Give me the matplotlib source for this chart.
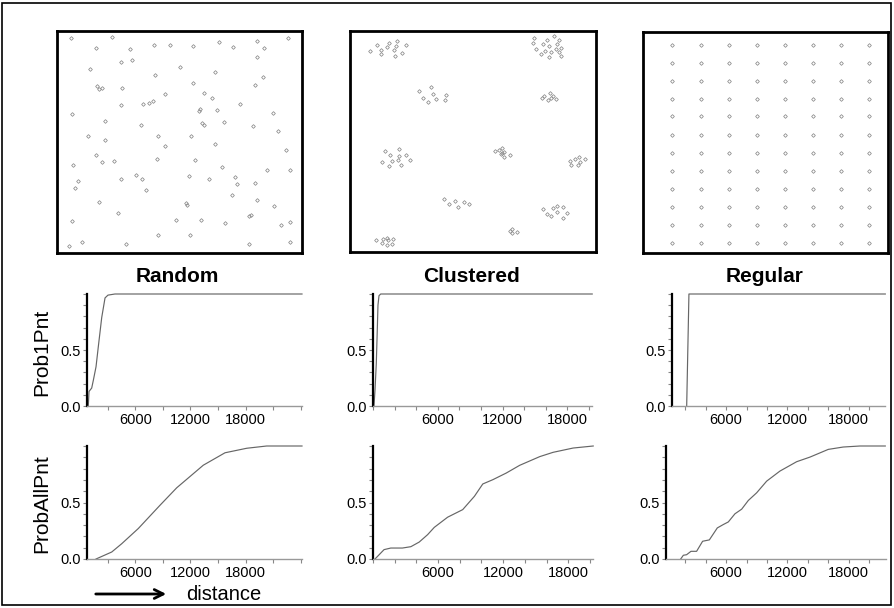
import matplotlib
matplotlib.use('Agg')
import matplotlib.pyplot as plt
import numpy as np
from matplotlib.patches import Rectangle, FancyArrowPatch
from matplotlib.ticker import FixedLocator, MultipleLocator

plt.rcParams['font.family'] = ['Liberation Sans', 'DejaVu Sans']

# Figure size in pixels
W, H = 894, 608

# Point patterns, on a 0-100 square
RANDOM_X = [5.9, 22.4, 15.9, 29.7, 39.5, 46.3, 55.5, 66.0, 72.0, 81.6, 84.4, 94.4,
            26.3, 30.5, 81.6, 13.6, 50.2, 39.9, 64.6, 83.9, 16.3, 17.0, 18.4, 26.5,
            55.4, 80.7, 43.9, 59.9, 63.1, 26.0, 35.0, 37.7, 39.2, 74.6, 6.3, 58.5,
            58.0, 65.2, 88.3, 19.7, 34.1, 59.0, 59.9, 68.2, 79.9, 90.1, 12.5, 41.1,
            54.6, 19.7, 43.9, 64.4, 93.5, 15.8, 18.4, 23.1, 6.4, 41.0, 56.5, 67.2,
            85.6, 95.1, 32.1, 34.7, 26.3, 53.9, 62.2, 72.5, 73.3, 81.0, 8.7, 7.3,
            36.2, 71.6, 17.1, 81.6, 88.4, 24.8, 52.5, 53.2, 79.3, 78.2, 6.0, 48.6,
            58.8, 68.4, 91.3, 95.1, 41.1, 54.1, 10.2, 4.9, 28.0, 78.2, 95.2]
RANDOM_Y = [96.7, 97.4, 92.2, 91.9, 93.7, 93.7, 93.4, 94.9, 92.6, 95.6, 92.5, 96.7,
            86.2, 86.9, 88.1, 82.7, 83.6, 80.2, 81.4, 79.2, 75.3, 73.8, 74.4, 74.1,
            76.7, 75.6, 71.7, 71.9, 69.6, 66.5, 67.1, 67.7, 68.4, 67.1, 62.4, 64.8,
            63.9, 64.2, 62.9, 59.4, 57.7, 58.6, 57.7, 59.1, 57.1, 54.9, 52.6, 52.8,
            52.6, 50.8, 48.3, 49.0, 46.6, 44.2, 41.2, 41.5, 39.7, 42.3, 42.0, 38.9,
            37.4, 37.4, 35.3, 33.4, 33.4, 34.6, 33.5, 34.1, 31.3, 31.6, 32.3, 29.2,
            28.6, 26.3, 22.9, 23.8, 21.1, 17.9, 22.3, 21.5, 17.3, 16.5, 14.4, 14.7,
            14.9, 13.7, 12.8, 14.0, 8.3, 8.0, 5.0, 3.2, 3.9, 3.9, 5.0]

CLUSTER_X = [8.1, 10.9, 12.5, 12.5, 15.1, 16.0, 18.0, 18.3, 18.9, 19.3, 21.3, 22.7,
             74.9, 74.4, 75.8, 77.6, 78.3, 79.4, 80.1, 80.9, 81.0, 81.8, 82.8, 83.6,
             84.0, 84.9, 85.1, 85.6, 85.6,
             28.0, 29.7, 31.9, 32.8, 33.8, 34.9, 38.5, 39.2,
             77.9, 79.0, 80.3, 81.1, 81.8, 82.4, 83.6,
             12.9, 14.2, 16.0, 16.3, 17.1, 19.7, 20.1, 20.1, 20.9, 22.9, 24.4,
             58.8, 60.4, 61.6, 61.2, 61.9, 62.8, 62.8, 64.9,
             89.6, 89.8, 91.5, 92.5, 93.1, 93.4, 95.7,
             38.1, 40.4, 42.5, 44.0, 46.5, 48.3,
             78.6, 79.9, 81.7, 82.4, 84.0, 84.0, 86.4, 86.7, 88.1,
             65.0, 65.7, 65.8, 67.7,
             10.7, 13.0, 13.4, 15.2, 15.3, 15.2, 17.1, 17.5]
CLUSTER_Y = [90.9, 93.7, 91.5, 89.4, 92.6, 94.7, 91.2, 88.5, 93.2, 95.5, 90.2, 93.7,
             96.7, 94.4, 91.8, 89.6, 94.0, 91.1, 95.9, 93.2, 88.4, 90.3, 97.7, 91.8,
             94.1, 95.8, 90.6, 92.4, 88.8,
             73.0, 69.9, 67.7, 74.6, 71.5, 69.2, 69.0, 71.1,
             69.9, 70.7, 69.0, 71.9, 69.5, 70.8, 69.2,
             40.8, 45.8, 38.7, 43.8, 41.1, 41.5, 46.7, 43.5, 39.3, 44.0, 41.5,
             45.5, 46.2, 47.1, 44.4, 45.0, 45.3, 43.2, 44.0,
             41.2, 39.4, 42.3, 39.4, 43.2, 40.8, 42.1,
             24.2, 21.6, 23.3, 20.2, 22.8, 21.6,
             19.5, 17.4, 16.3, 20.1, 21.0, 18.3, 15.6, 20.2, 17.8,
             9.5, 10.3, 8.6, 9.2,
             5.4, 4.1, 5.7, 6.3, 5.4, 3.0, 3.8, 5.9]

REGULAR_COLS = [12.0, 23.6, 35.0, 46.4, 57.9, 69.4, 80.9, 92.3]
REGULAR_ROWS = [94.0, 85.8, 77.8, 69.8, 61.8, 53.6, 45.3, 37.2, 29.0, 20.8, 12.7, 4.5]

# Probability curves (distance, probability)
RANDOM_P1_X = [900, 980, 1270, 1450, 1740, 1990, 2360, 2720, 3040, 3800, 24130]
RANDOM_P1_Y = [0.0, 0.13, 0.16, 0.23, 0.35, 0.53, 0.79, 0.965, 0.99, 1.0, 1.0]
CLUSTER_P1_X = [90, 185, 305, 400, 460, 555, 715, 20300]
CLUSTER_P1_Y = [0.0, 0.14, 0.38, 0.69, 0.90, 0.985, 1.0, 1.0]
REGULAR_P1_X = [2130, 2350, 21600]
REGULAR_P1_Y = [0.0, 1.0, 1.0]

RANDOM_PALL_X = [1740, 3450, 4530, 6340, 8700, 10510, 13400, 15760, 18120, 20290, 24130]
RANDOM_PALL_Y = [0.0, 0.062, 0.135, 0.27, 0.476, 0.63, 0.83, 0.94, 0.98, 1.0, 1.0]
CLUSTER_PALL_X = [185, 1020, 1640, 2710, 3490, 4260, 5030, 5650, 6880, 8270, 9350,
                  10120, 11050, 12290, 13520, 15370, 16600, 18450, 20300]
CLUSTER_PALL_Y = [0.0, 0.083, 0.097, 0.097, 0.109, 0.15, 0.215, 0.28, 0.37, 0.437, 0.555,
                  0.664, 0.702, 0.761, 0.829, 0.906, 0.944, 0.982, 1.0]
REGULAR_PALL_X = [1540, 1800, 2120, 2550, 3100, 3690, 4350, 5130, 5720, 6210, 6860,
                  7520, 8170, 8990, 9970, 11270, 12910, 14220, 16010, 17480, 19120, 21600]
REGULAR_PALL_Y = [0.0, 0.033, 0.038, 0.068, 0.068, 0.157, 0.169, 0.275, 0.305, 0.328, 0.40,
                  0.441, 0.518, 0.586, 0.689, 0.778, 0.861, 0.902, 0.97, 0.991, 1.0, 1.0]

TITLES = ['Random', 'Clustered', 'Regular']
X_TICKS = [6000, 12000, 18000]


def px_rect(x0, y0, x1, y1):
    """Axes rectangle from pixel corners (top-left origin)."""
    return [x0 / W, 1 - y1 / H, (x1 - x0) / W, (y1 - y0) / H]


def draw_pattern(ax, xs, ys):
    ax.plot(xs, ys, linestyle='none', marker='D', markersize=1.9,
            markerfacecolor='none', markeredgecolor='#8a8a8a', markeredgewidth=0.55)
    ax.set_xlim(0, 100)
    ax.set_ylim(0, 100)
    ax.set_xticks([])
    ax.set_yticks([])
    for sp in ax.spines.values():
        sp.set_linewidth(2.0)
        sp.set_color('black')


def draw_curve(ax, xs, ys, xlim, minor_step):
    ax.plot(xs, ys, color='#666666', linewidth=0.85, clip_on=False)
    ax.set_xlim(xlim)
    ax.set_ylim(0, 1.0)
    ax.spines['top'].set_visible(False)
    ax.spines['right'].set_visible(False)
    ax.spines['left'].set_linewidth(1.6)
    ax.spines['left'].set_color('black')
    ax.spines['bottom'].set_linewidth(1.0)
    ax.spines['bottom'].set_color('#999999')
    ax.xaxis.set_major_locator(FixedLocator(X_TICKS))
    ax.xaxis.set_minor_locator(MultipleLocator(minor_step))
    ax.set_xticklabels([str(t) for t in X_TICKS])
    ax.yaxis.set_major_locator(FixedLocator([0.0, 0.5]))
    ax.yaxis.set_minor_locator(MultipleLocator(0.1))
    ax.set_yticklabels(['0.0', '0.5'])
    ax.tick_params(which='both', direction='out', length=3, width=0.8,
                   color='#888888', labelsize=10.5, pad=2)
    ax.tick_params(axis='y', pad=1.5)


def main():
    fig = plt.figure(figsize=(W / 100, H / 100), dpi=100)

    # outer frame
    fig.add_artist(Rectangle((2 / W, 3 / H), 889 / W, 602 / H, transform=fig.transFigure,
                             fill=False, edgecolor='black', linewidth=1.2))

    # point pattern boxes
    pattern_boxes = [(57, 31, 302, 253), (350, 31, 596, 252), (643, 32, 888, 253)]
    ax = fig.add_axes(px_rect(*pattern_boxes[0]))
    draw_pattern(ax, RANDOM_X, RANDOM_Y)
    ax = fig.add_axes(px_rect(*pattern_boxes[1]))
    draw_pattern(ax, CLUSTER_X, CLUSTER_Y)
    gx, gy = np.meshgrid(REGULAR_COLS, REGULAR_ROWS)
    ax = fig.add_axes(px_rect(*pattern_boxes[2]))
    draw_pattern(ax, gx.ravel(), gy.ravel())

    title_x = [177, 472, 765]
    for tx, title in zip(title_x, TITLES):
        fig.text(tx / W, 1 - 276 / H, title, ha='center', va='center',
                 fontsize=15, fontweight='bold')

    # probability curves
    middle = [
        ((87, 294, 302, 406), RANDOM_P1_X, RANDOM_P1_Y, (760, 24130), 3000),
        ((373, 294, 592, 406), CLUSTER_P1_X, CLUSTER_P1_Y, (0, 20280), 2000),
        ((672, 294, 885, 406), REGULAR_P1_X, REGULAR_P1_Y, (690, 21570), 2000),
    ]
    bottom = [
        ((87, 446, 302, 559), RANDOM_PALL_X, RANDOM_PALL_Y, (760, 24130), 3000),
        ((373, 446, 593, 559), CLUSTER_PALL_X, CLUSTER_PALL_Y, (0, 20280), 2000),
        ((666, 446, 886, 559), REGULAR_PALL_X, REGULAR_PALL_Y, (100, 21670), 2000),
    ]
    for box, xs, ys, xlim, step in middle + bottom:
        ax = fig.add_axes(px_rect(*box))
        draw_curve(ax, xs, ys, xlim, step)

    fig.text(42 / W, 1 - 352 / H, 'Prob1Pnt', rotation=90, ha='center', va='center', fontsize=15)
    fig.text(42 / W, 1 - 504 / H, 'ProbAllPnt', rotation=90, ha='center', va='center', fontsize=15)

    # distance arrow
    fig.add_artist(FancyArrowPatch((93 / W, 1 - 594 / H), (169 / W, 1 - 594 / H),
                                   transform=fig.transFigure, arrowstyle='->',
                                   mutation_scale=16, linewidth=2.0, color='black'))
    fig.text(186 / W, 1 - 600 / H, 'distance', ha='left', va='baseline', fontsize=14.5)

    fig.savefig('out.png', dpi=100)


if __name__ == "__main__":
    main()
